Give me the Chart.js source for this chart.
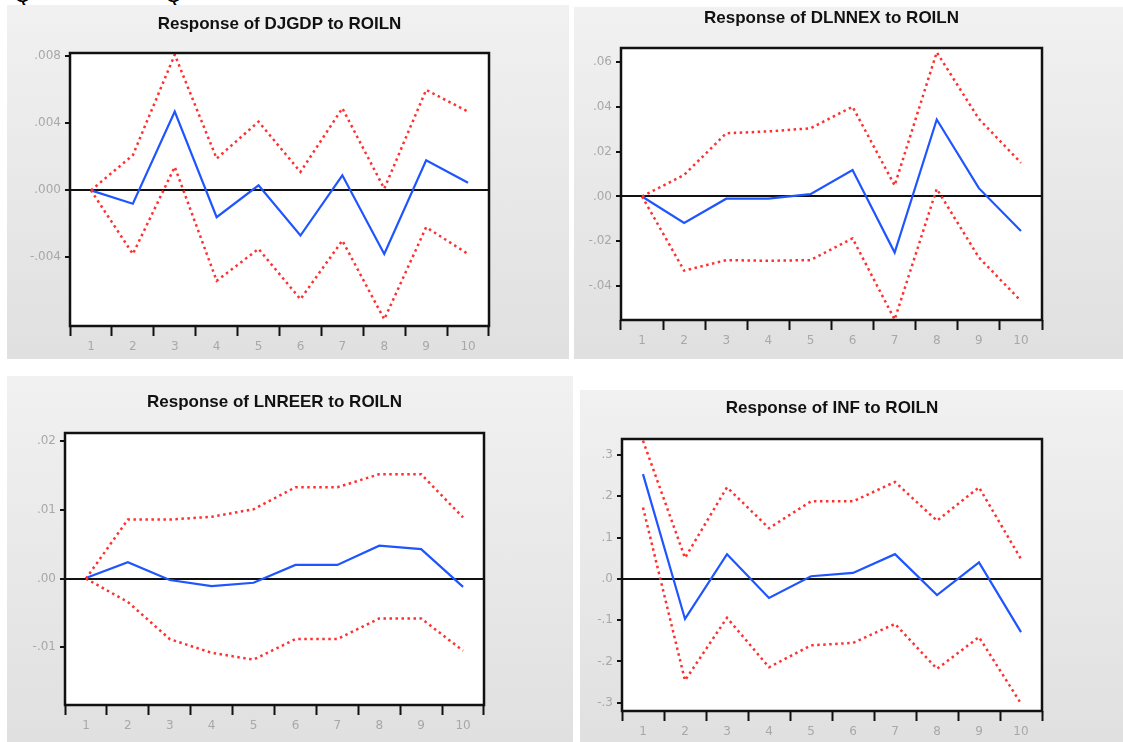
<!DOCTYPE html>
<html>
<head>
<meta charset="utf-8">
<script src="https://cdn.jsdelivr.net/npm/chart.js@4.4.1/dist/chart.umd.min.js"></script>
<style>
body { margin:0; background:#fff; width:1123px; height:742px; overflow:hidden; position:relative; font-family:'Liberation Sans', Arial, sans-serif; }
.panel { position:absolute; background:linear-gradient(#f1f1f1, #e0e0e0); }
.panel canvas { position:absolute; left:0; top:0; }
.cut { position:absolute; top:-18px; font-size:22px; color:#000; }
</style>
</head>
<body>
<div class="cut" style="left:14px">Q</div>
<div class="cut" style="left:165px">Q</div>
<div class="panel" style="left:7px;top:5px;width:562px;height:354px"><canvas id="c1" width="562" height="354"></canvas></div>
<div class="panel" style="left:574px;top:7px;width:549px;height:352px"><canvas id="c2" width="549" height="352"></canvas></div>
<div class="panel" style="left:7px;top:376px;width:566px;height:366px"><canvas id="c3" width="566" height="366"></canvas></div>
<div class="panel" style="left:580px;top:390px;width:543px;height:352px"><canvas id="c4" width="543" height="352"></canvas></div>
<script>
// horizons (periods)
var horizons = ['1', '2', '3', '4', '5', '6', '7', '8', '9', '10'];

// Response of DJGDP to ROILN
var djgdpResp  = [0.0000, -0.0008, 0.0047, -0.0016, 0.0003, -0.0027, 0.0009, -0.0038, 0.0018, 0.00045];
var djgdpUpper = [0.0000, 0.0021, 0.0081, 0.0019, 0.0041, 0.0011, 0.0049, 0.0001, 0.0060, 0.0047];
var djgdpLower = [0.0000, -0.0038, 0.0014, -0.0054, -0.0035, -0.0065, -0.0030, -0.0077, -0.0022, -0.0038];
var djgdpTicks = [-0.004, 0, 0.004, 0.008];
var djgdpTickLabels = ['-.004', '.000', '.004', '.008'];
var djgdpRange = [-0.0081, 0.0082];

// Response of DLNNEX to ROILN
var dlnnexResp  = [0.000, -0.0118, -0.0010, -0.0010, 0.0010, 0.0118, -0.0250, 0.0343, 0.0037, -0.0154];
var dlnnexUpper = [0.000, 0.0096, 0.0282, 0.0290, 0.0304, 0.0400, 0.0049, 0.0643, 0.0346, 0.0150];
var dlnnexLower = [0.000, -0.0331, -0.0284, -0.0287, -0.0284, -0.0187, -0.0549, 0.0034, -0.0272, -0.0466];
var dlnnexTicks = [-0.04, -0.02, 0, 0.02, 0.04, 0.06];
var dlnnexTickLabels = ['-.04', '-.02', '.00', '.02', '.04', '.06'];
var dlnnexRange = [-0.0551, 0.0662];

// Response of LNREER to ROILN
var lnreerResp  = [0.0001, 0.0024, -0.0002, -0.0011, -0.0006, 0.0020, 0.0020, 0.0048, 0.0043, -0.0012];
var lnreerUpper = [0.0000, 0.0086, 0.0086, 0.0090, 0.0101, 0.0133, 0.0133, 0.0152, 0.0152, 0.0089];
var lnreerLower = [0.0000, -0.0034, -0.0088, -0.0108, -0.0118, -0.0088, -0.0088, -0.0058, -0.0058, -0.0105];
var lnreerTicks = [-0.01, 0, 0.01, 0.02];
var lnreerTickLabels = ['-.01', '.00', '.01', '.02'];
var lnreerRange = [-0.0184, 0.0212];

// Response of INF to ROILN
var infResp  = [0.254, -0.097, 0.060, -0.046, 0.0065, 0.0145, 0.060, -0.039, 0.040, -0.129];
var infUpper = [0.335, 0.051, 0.222, 0.123, 0.188, 0.188, 0.235, 0.141, 0.222, 0.048];
var infLower = [0.173, -0.246, -0.094, -0.214, -0.161, -0.155, -0.109, -0.218, -0.141, -0.302];
var infTicks = [-0.3, -0.2, -0.1, 0, 0.1, 0.2, 0.3];
var infTickLabels = ['-.3', '-.2', '-.1', '.0', '.1', '.2', '.3'];
var infRange = [-0.32, 0.339];

Chart.defaults.font.family = "'Liberation Sans', Arial, sans-serif";

var Y_W = 40, X_H = 30;
var tickFont = { family: "'DejaVu Sans', sans-serif", size: 12 };

function makeChart(id, title, titleY, pad, resp, upper, lower, tickVals, tickLabels, range) {
    // white plot area, black frame and the title
    var framePlugin = {
        id: 'frame',
        beforeDraw: function (chart) {
            var a = chart.chartArea, c = chart.ctx;
            c.save();
            c.fillStyle = '#fff';
            c.fillRect(a.left, a.top, a.right - a.left, a.bottom - a.top);
            c.restore();
        },
        afterDraw: function (chart) {
            var a = chart.chartArea, c = chart.ctx;
            c.save();
            c.strokeStyle = '#111';
            c.lineWidth = 2.5;
            c.strokeRect(a.left, a.top, a.right - a.left, a.bottom - a.top);
            c.fillStyle = '#111';
            c.font = "bold 17px 'Liberation Sans', Arial, sans-serif";
            c.textAlign = 'center';
            c.textBaseline = 'middle';
            c.fillText(title, (a.left + a.right) / 2, titleY);
            c.restore();
        }
    };

    return new Chart(document.getElementById(id).getContext('2d'), {
        type: 'line',
        data: {
            labels: horizons,
            datasets: [{
                data: upper,
                borderColor: '#ff3030',
                borderWidth: 2.5,
                borderDash: [2.5, 3.5],
                pointRadius: 0,
                tension: 0,
                fill: false
            }, {
                data: lower,
                borderColor: '#ff3030',
                borderWidth: 2.5,
                borderDash: [2.5, 3.5],
                pointRadius: 0,
                tension: 0,
                fill: false
            }, {
                data: resp,
                borderColor: '#1f55ff',
                borderWidth: 2.2,
                pointRadius: 0,
                tension: 0,
                fill: false
            }]
        },
        options: {
            responsive: false,
            animation: false,
            layout: { padding: pad },
            plugins: {
                legend: { display: false },
                tooltip: { enabled: false },
                title: { display: false }
            },
            scales: {
                x: {
                    type: 'category',
                    offset: true,
                    border: { display: false },
                    grid: {
                        offset: true,
                        drawOnChartArea: false,
                        drawTicks: true,
                        tickLength: 10,
                        tickWidth: 2,
                        tickColor: '#111',
                        color: '#111'
                    },
                    ticks: { color: '#a8a8a8', font: tickFont, padding: 4, maxRotation: 0, autoSkip: false },
                    afterFit: function (s) { s.height = X_H; }
                },
                y: {
                    min: range[0],
                    max: range[1],
                    border: { display: false },
                    grid: {
                        color: function (c) { return c.tick && c.tick.value === 0 ? '#111' : 'rgba(0,0,0,0)'; },
                        lineWidth: 2,
                        tickLength: 5,
                        tickColor: '#111',
                        tickWidth: 2
                    },
                    afterBuildTicks: function (s) {
                        s.ticks = tickVals.map(function (v) { return { value: v }; });
                    },
                    ticks: {
                        color: '#a8a8a8',
                        font: tickFont,
                        padding: 4,
                        callback: function (v, i) { return tickLabels[i]; }
                    },
                    afterFit: function (s) { s.width = Y_W; }
                }
            }
        },
        plugins: [framePlugin]
    });
}

makeChart('c1', 'Response of DJGDP to ROILN', 19, { left: 23, top: 48, right: 80, bottom: 3 },
    djgdpResp, djgdpUpper, djgdpLower, djgdpTicks, djgdpTickLabels, djgdpRange);
makeChart('c2', 'Response of DLNNEX to ROILN', 11, { left: 7, top: 41, right: 81, bottom: 9 },
    dlnnexResp, dlnnexUpper, dlnnexLower, dlnnexTicks, dlnnexTickLabels, dlnnexRange);
makeChart('c3', 'Response of LNREER to ROILN', 26, { left: 18, top: 57, right: 89, bottom: 7 },
    lnreerResp, lnreerUpper, lnreerLower, lnreerTicks, lnreerTickLabels, lnreerRange);
makeChart('c4', 'Response of INF to ROILN', 18, { left: 2, top: 49, right: 81, bottom: 1 },
    infResp, infUpper, infLower, infTicks, infTickLabels, infRange);
</script>
</body>
</html>
